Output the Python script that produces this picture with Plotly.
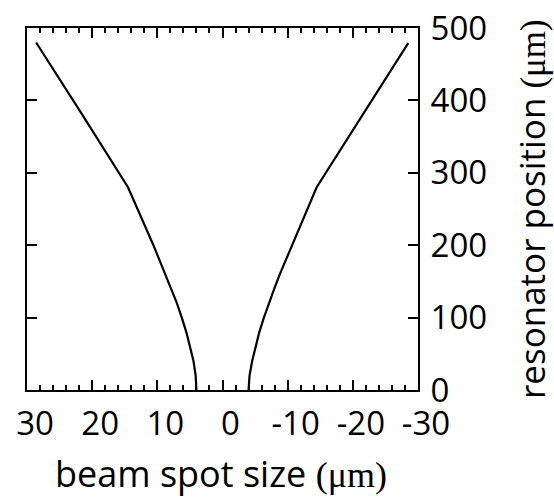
import plotly.graph_objects as go

# resonator position (um)
pos_left = [0, 20, 40, 60, 80, 100, 120, 140, 160, 180, 200, 220, 240, 260, 280, 380, 480]
# beam spot size (um), left branch (positive)
size_left = [4.0, 4.12, 4.45, 4.95, 5.55, 6.25, 7.0, 7.9, 8.75, 9.7, 10.6, 11.6, 12.55, 13.5, 14.5, 21.5, 28.6]

pos_right = [0, 20, 40, 60, 80, 100, 120, 140, 160, 180, 200, 220, 240, 260, 280, 380, 479]
# beam spot size (um), right branch (negative)
size_right = [-4.0, -4.15, -4.55, -5.05, -5.65, -6.35, -7.1, -7.95, -8.8, -9.75, -10.65, -11.65, -12.6, -13.5, -14.45, -21.5, -28.5]

xtick_vals = [30, 20, 10, 0, -10, -20, -30]
xtick_text = ["30", "20", "10", "0", "-10", "-20", "-30"]
ytick_vals = [0, 100, 200, 300, 400, 500]

FONT = "Open Sans"
SERIF = "Liberation Serif"
FS = 33

fig = go.Figure()
fig.add_trace(go.Scatter(x=size_left, y=pos_left, mode="lines",
                         line=dict(color="black", width=2.2), showlegend=False))
fig.add_trace(go.Scatter(x=size_right, y=pos_right, mode="lines",
                         line=dict(color="black", width=2.2), showlegend=False))

fig.update_layout(
    width=554, height=499,
    margin=dict(l=27, r=136, t=28, b=109),
    paper_bgcolor="white", plot_bgcolor="white",
    font=dict(family=FONT, size=FS, color="black"),
    xaxis=dict(
        range=[30, -30], autorange=False, automargin=False,
        tickvals=xtick_vals, ticktext=xtick_text,
        ticks="inside", ticklen=10, tickwidth=1.5, tickcolor="black",
        minor=dict(dtick=2, ticks="inside", ticklen=5, tickwidth=1.5, tickcolor="black"),
        showline=True, linecolor="black", linewidth=2, mirror="ticks",
        showgrid=False, zeroline=False,
        ticklabelshift=-8, ticklabelstandoff=3,
        tickfont=dict(family=FONT, size=FS),
    ),
    yaxis=dict(
        range=[0, 500], autorange=False, side="right", automargin=False,
        tickvals=ytick_vals,
        ticks="inside", ticklen=10, tickwidth=1.5, tickcolor="black",
        showline=True, linecolor="black", linewidth=2, mirror="ticks",
        showgrid=False, zeroline=False,
        ticklabelstandoff=4,
        tickfont=dict(family=FONT, size=FS),
    ),
    annotations=[
        dict(text="beam spot size <span style='font-family:%s'>(μm)</span>" % SERIF,
             xref="paper", yref="paper", x=0.495, y=-0.232, xanchor="center", yanchor="middle",
             showarrow=False, font=dict(family=FONT, size=36)),
        dict(text="resonator position <span style='font-family:%s'>(μm)</span>" % SERIF,
             xref="paper", yref="paper", x=1.289, y=0.5, xanchor="center", yanchor="middle",
             textangle=-90, showarrow=False, font=dict(family=FONT, size=35)),
    ],
)

fig.write_html("out.html")
